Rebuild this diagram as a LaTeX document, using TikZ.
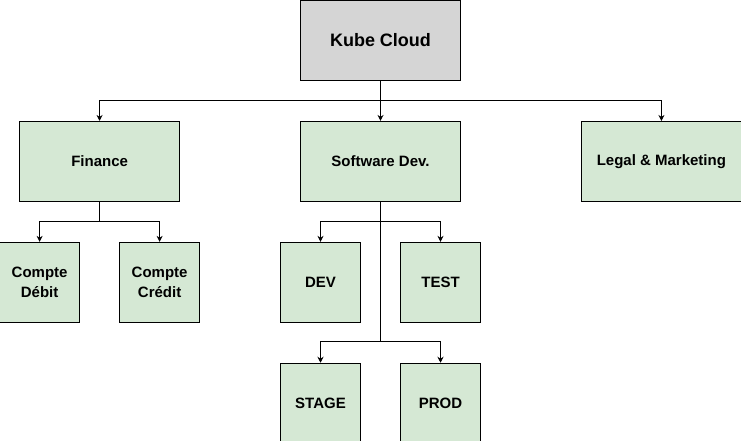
\documentclass[tikz,border=0pt]{standalone}
\usepackage{fontspec}
\setmainfont{Liberation Sans}
\usepackage{tikz}
\usetikzlibrary{positioning,arrows.meta}
\usepackage{xcolor}
\definecolor{kubegray}{HTML}{D5D5D5}
\definecolor{teamgreen}{HTML}{D5E8D4}

\begin{document}
\begin{tikzpicture}[
  x=1pt, y=1pt,
  node distance=40pt,
  root/.style={draw, fill=kubegray, line width=0.9pt, minimum width=160pt, minimum height=80pt, font=\fontsize{18}{22}\selectfont\bfseries},
  team/.style={draw, fill=teamgreen, line width=0.9pt, minimum width=160pt, minimum height=80pt, align=center, font=\fontsize{15}{20}\selectfont\bfseries},
  env/.style={team, minimum width=80pt},
  arr/.style={-{Stealth[length=6pt,width=6pt]}, line width=0.9pt}
]
\useasboundingbox (0,0) rectangle (741,-441);
\node[root] (kube) at (380.5,-40.5) {Kube Cloud};
\node[team, below=of kube] (soft) {Software Dev.};
\node[team, left=120pt of soft] (fin) {Finance};
\node[team, right=120pt of soft] (legal) {Legal \& Marketing};
\node[env, below=of fin, xshift=-60pt] (debit) {Compte\\Débit};
\node[env, below=of fin, xshift=60pt] (credit) {Compte\\Crédit};
\node[env, below=of soft, xshift=-60pt] (dev) {DEV};
\node[env, below=of soft, xshift=60pt] (test) {TEST};
\node[env, below=of dev] (stage) {STAGE};
\node[env, below=of test] (prod) {PROD};
\draw[arr] (kube.south) -- ++(0,-20) -| (fin.north);
\draw[arr] (kube.south) -- (soft.north);
\draw[arr] (kube.south) -- ++(0,-20) -| (legal.north);
\draw[arr] (fin.south) -- ++(0,-20) -| (debit.north);
\draw[arr] (fin.south) -- ++(0,-20) -| (credit.north);
\draw[arr] (soft.south) -- ++(0,-20) -| (dev.north);
\draw[arr] (soft.south) -- ++(0,-20) -| (test.north);
\draw[arr] (soft.south) -- ++(0,-140) -| (stage.north);
\draw[arr] (soft.south) -- ++(0,-140) -| (prod.north);
\end{tikzpicture}
\end{document}
